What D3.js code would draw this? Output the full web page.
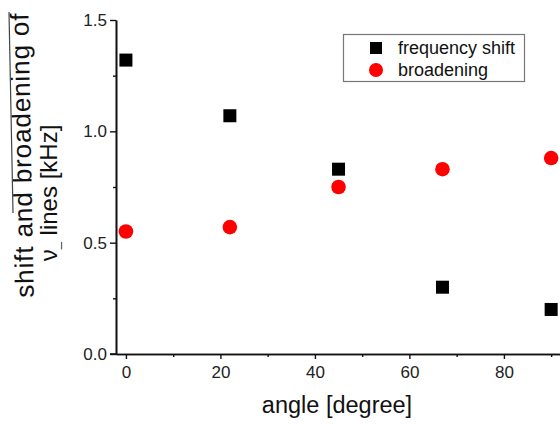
<!DOCTYPE html>
<html>
<head>
<meta charset="utf-8">
<script src="https://cdn.jsdelivr.net/npm/d3@7"></script>
<style>
html,body{margin:0;padding:0;background:#fff;}
svg{display:block;font-family:"Liberation Sans",Arial,sans-serif;}
</style>
</head>
<body>
<svg id="chart" width="560" height="426"></svg>
<script>
const angles = [0, 22, 45, 67, 90];
const freqShift = [1.32, 1.07, 0.83, 0.30, 0.20];
const broadening = [0.55, 0.57, 0.75, 0.83, 0.88];
const xMajorTicks = [0, 20, 40, 60, 80];
const xMinorTicks = [10, 30, 50, 70, 90];
const yMajorTicks = [0.0, 0.5, 1.0, 1.5];
const yMinorTicks = [0.25, 0.75, 1.25];
const seriesNames = ["frequency shift", "broadening"];
const xTitle = "angle [degree]";
const yTitleLine1 = "shift and broadening of";
const yTitleLine2 = ["ν", "_", " lines [kHz]"];

const svg = d3.select("#chart");
const x = d3.scaleLinear().domain([-2.1, 92]).range([116, 560.6]);
const y = d3.scaleLinear().domain([0, 1.5]).range([354, 20]);

const xAxisMajor = d3.axisBottom(x).tickValues(xMajorTicks).tickFormat(d3.format("d")).tickSize(5).tickSizeOuter(0);
const xAxisMinor = d3.axisBottom(x).tickValues(xMinorTicks).tickFormat("").tickSize(3).tickSizeOuter(0);
const yAxisMajor = d3.axisLeft(y).tickValues(yMajorTicks).tickFormat(d3.format(".1f")).tickSize(6).tickSizeOuter(0);
const yAxisMinor = d3.axisLeft(y).tickValues(yMinorTicks).tickFormat("").tickSize(3).tickSizeOuter(0);

function styleAxis(g){
  g.selectAll("path.domain").attr("stroke","#111").attr("stroke-width",1.6);
  g.selectAll(".tick line").attr("stroke","#111").attr("stroke-width",1.4);
  g.selectAll(".tick text").attr("fill","#222").style("font-size","17px").style("font-family",'"Liberation Sans",Arial,sans-serif');
}
svg.append("g").attr("transform","translate(0,354)").call(xAxisMinor).call(styleAxis);
svg.append("g").attr("transform","translate(0,354)").call(xAxisMajor).call(styleAxis)
  .selectAll(".tick text").attr("dy","0.95em");
svg.append("g").attr("transform","translate(116,0)").call(yAxisMinor).call(styleAxis);
svg.append("g").attr("transform","translate(116,0)").call(yAxisMajor).call(styleAxis)
  .selectAll(".tick text").attr("x",-9);
svg.append("line").attr("x1",110).attr("x2",116).attr("y1",354).attr("y2",354).attr("stroke","#111").attr("stroke-width",1.6);

// titles
svg.append("text").attr("x",337).attr("y",413).attr("text-anchor","middle")
  .style("font-size","23.5px").attr("fill","#111").text(xTitle);
svg.append("text").attr("transform","translate(31,155) rotate(-91.1)").attr("text-anchor","middle")
  .style("font-size","26px").style("letter-spacing","0.9px").attr("fill","#111").text(yTitleLine1);
const t2 = svg.append("text").attr("transform","translate(57,193) rotate(-90)").attr("text-anchor","middle")
  .style("font-size","24px").attr("fill","#111");
t2.append("tspan").text(yTitleLine2[0]);
t2.append("tspan").style("font-size","13px").attr("dy","2").text(yTitleLine2[1]);
t2.append("tspan").attr("dy","-2").text(yTitleLine2[2]);
svg.append("line").attr("x1",9).attr("x2",13).attr("y1",12).attr("y2",213).attr("stroke","#444").attr("stroke-width",1.2);

// data
const sq = 13;
svg.append("g").selectAll("rect").data(angles.map((a,i)=>({a, v:freqShift[i]}))).join("rect")
  .attr("x",d=>x(d.a)-sq/2).attr("y",d=>y(d.v)-sq/2).attr("width",sq).attr("height",sq).attr("fill","#000");
svg.append("g").selectAll("circle").data(angles.map((a,i)=>({a, v:broadening[i]}))).join("circle")
  .attr("cx",d=>x(d.a)).attr("cy",d=>y(d.v)).attr("r",7.3).attr("fill","#ff0000");

// legend
const lg = svg.append("g");
lg.append("rect").attr("x",343.5).attr("y",34.5).attr("width",181).attr("height",47)
  .attr("fill","#fff").attr("stroke","#777").attr("stroke-width",1.2);
lg.append("rect").attr("x",376-6).attr("y",48-6).attr("width",12).attr("height",12).attr("fill","#000");
lg.append("circle").attr("cx",376).attr("cy",70).attr("r",7).attr("fill","#ff0000");
lg.append("text").attr("x",398).attr("y",54).style("font-size","18px").attr("fill","#111").text(seriesNames[0]);
lg.append("text").attr("x",398).attr("y",76).style("font-size","18px").attr("fill","#111").text(seriesNames[1]);
</script>
</body>
</html>
